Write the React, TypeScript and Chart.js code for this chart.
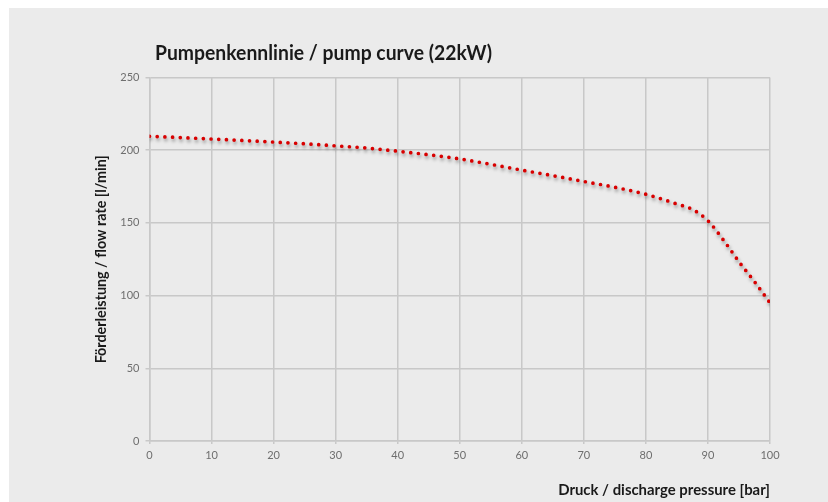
import React, { useEffect, useRef } from "react";
import { Chart, registerables } from "chart.js";

Chart.register(...registerables);

const chartTitle = "Pumpenkennlinie / pump curve (22kW)";
const xAxisTitle = "Druck / discharge pressure [bar]";
const yAxisTitle = "Förderleistung / flow rate [l/min]";

// discharge pressure [bar]
const pressureBar = [0, 5, 10, 15, 20, 25, 30, 35, 40, 45, 50, 55, 60, 65, 70, 75, 80, 85, 87.5, 90, 92.5, 95, 97.5, 100];
// flow rate [l/min]
const flowRate = [209.6, 208.7, 207.7, 206.7, 205.6, 204.4, 203, 201.5, 199.3, 196.9, 194, 190.3, 186.3, 182.5, 178.5, 174.5, 169.7, 163, 159.3, 151.5, 138.2, 123.3, 109.6, 95];

const xTicks = [0, 10, 20, 30, 40, 50, 60, 70, 80, 90, 100];
const yTicks = [0, 50, 100, 150, 200, 250];

const FONT = "Lato, 'Open Sans', sans-serif";

const backgroundPlugin = {
  id: "bgAndTitle",
  beforeDraw(chart: any) {
    const { ctx, width, height } = chart;
    ctx.save();
    ctx.fillStyle = "#ffffff";
    ctx.fillRect(0, 0, width, height);
    ctx.fillStyle = "#ebebeb";
    ctx.fillRect(9, 8, width - 9, height - 8);
    ctx.font = `bold 20px ${FONT}`;
    ctx.fillStyle = "#1a1a1a";
    ctx.textBaseline = "alphabetic";
    ctx.textAlign = "left";
    ctx.fillText(chartTitle, 155, 59.5, 337);
    ctx.restore();
  },
};

const shadowPlugin = {
  id: "lineShadow",
  beforeDatasetDraw(chart: any) {
    const c = chart.ctx;
    c.save();
    c.shadowColor = "rgba(0,0,0,0.4)";
    c.shadowBlur = 3.5;
    c.shadowOffsetX = 1;
    c.shadowOffsetY = 2.5;
  },
  afterDatasetDraw(chart: any) {
    chart.ctx.restore();
  },
};

export default function App() {
  const ref = useRef<HTMLCanvasElement | null>(null);

  useEffect(() => {
    if (!ref.current) return;
    const chart = new Chart(ref.current, {
      type: "line",
      data: {
        datasets: [
          {
            label: "pump curve",
            data: pressureBar.map((x, i) => ({ x, y: flowRate[i] })),
            borderColor: "#d80000",
            borderWidth: 3.7,
            borderDash: [0, 7.7],
            borderCapStyle: "round",
            pointRadius: 0,
            cubicInterpolationMode: "monotone",
            fill: false,
          },
        ],
      },
      options: {
        responsive: false,
        animation: false,
        layout: { padding: { left: 0, top: 77.5, right: 58, bottom: 0 } },
        plugins: {
          legend: { display: false },
          title: { display: false },
          tooltip: { enabled: false },
        },
        scales: {
          x: {
            type: "linear",
            min: 0,
            max: 100,
            afterBuildTicks: (s: any) => {
              s.ticks = xTicks.map((v) => ({ value: v }));
            },
            afterFit: (s: any) => {
              s.height = 61;
            },
            grid: { color: "#c8c8c8", lineWidth: 1.5, tickLength: 3, drawTicks: true },
            border: { color: "#c8c8c8", width: 1.5 },
            ticks: {
              color: "#6e6e6e",
              font: { family: FONT, size: 11 },
              padding: 5,
              maxRotation: 0,
            },
            title: {
              display: true,
              text: xAxisTitle,
              align: "end",
              color: "#1a1a1a",
              font: { family: FONT, size: 14.9, weight: "bold" },
              padding: { top: 0, bottom: 3.2 },
            },
          },
          y: {
            type: "linear",
            min: 0,
            max: 250,
            afterBuildTicks: (s: any) => {
              s.ticks = yTicks.map((v) => ({ value: v }));
            },
            afterFit: (s: any) => {
              s.width = 149.5;
            },
            grid: { color: "#c8c8c8", lineWidth: 1.5, tickLength: 4, drawTicks: true },
            border: { color: "#c8c8c8", width: 1.5 },
            ticks: {
              color: "#6e6e6e",
              font: { family: FONT, size: 11 },
              padding: 6,
            },
            title: {
              display: true,
              text: yAxisTitle,
              color: "#1a1a1a",
              font: { family: FONT, size: 14.3, weight: "bold" },
              padding: { top: 92.5, bottom: 0 },
            },
          },
        },
      },
      plugins: [backgroundPlugin, shadowPlugin],
    } as any);
    return () => chart.destroy();
  }, []);

  return (
    <div style={{ position: "absolute", left: 0, top: 0, width: 828, height: 502 }}>
      <canvas ref={ref} width={828} height={502} style={{ display: "block" }} />
    </div>
  );
}
